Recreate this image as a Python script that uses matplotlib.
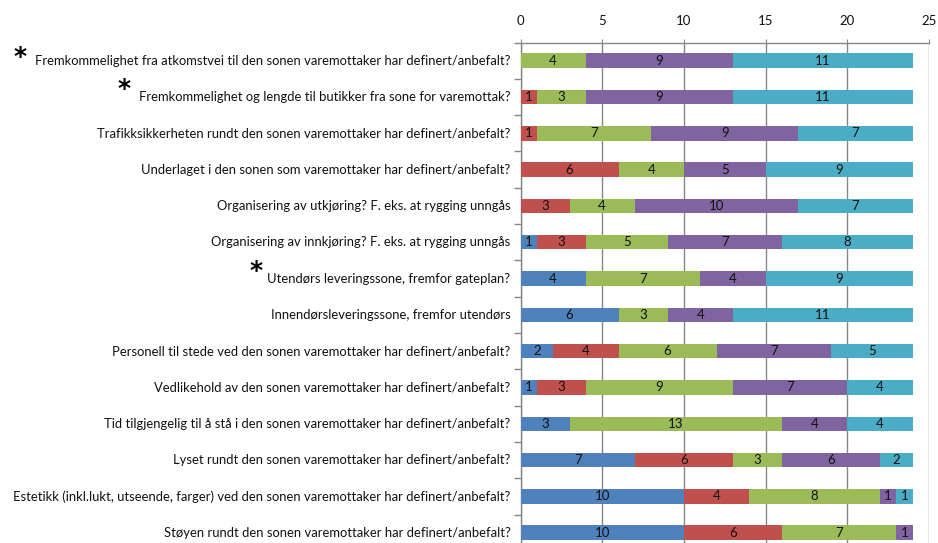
import matplotlib
matplotlib.use("Agg")
import matplotlib.pyplot as plt
import numpy as np

categories = [
    "Fremkommelighet fra atkomstvei til den sonen varemottaker har definert/anbefalt?",
    "Fremkommelighet og lengde til butikker fra sone for varemottak?",
    "Trafikksikkerheten rundt den sonen varemottaker har definert/anbefalt?",
    "Underlaget i den sonen som varemottaker har definert/anbefalt?",
    "Organisering av utkjøring? F. eks. at rygging unngås",
    "Organisering av innkjøring? F. eks. at rygging unngås",
    "Utendørs leveringssone, fremfor gateplan?",
    "Innendørsleveringssone, fremfor utendørs",
    "Personell til stede ved den sonen varemottaker har definert/anbefalt?",
    "Vedlikehold av den sonen varemottaker har definert/anbefalt?",
    "Tid tilgjengelig til å stå i den sonen varemottaker har definert/anbefalt?",
    "Lyset rundt den sonen varemottaker har definert/anbefalt?",
    "Estetikk (inkl.lukt, utseende, farger) ved den sonen varemottaker har definert/anbefalt?",
    "Støyen rundt den sonen varemottaker har definert/anbefalt?",
]
starred = [0, 1, 6]

s1 = [0, 0, 0, 0, 0, 1, 4, 6, 2, 1, 3, 7, 10, 10]
s2 = [0, 1, 1, 6, 3, 3, 0, 0, 4, 3, 0, 6, 4, 6]
s3 = [4, 3, 7, 4, 4, 5, 7, 3, 6, 9, 13, 3, 8, 7]
s4 = [9, 9, 9, 5, 10, 7, 4, 4, 7, 7, 4, 6, 1, 1]
s5 = [11, 11, 7, 9, 7, 8, 9, 11, 5, 4, 4, 2, 1, 0]
series = [s1, s2, s3, s4, s5]
colors = ["#4F81BD", "#C0504D", "#9BBB59", "#8064A2", "#4BACC6"]
xticks = [0, 5, 10, 15, 20, 25]

FONT = ["Lato", "DejaVu Sans"]
plt.rcParams["font.family"] = FONT

W, H = 938, 543
fig = plt.figure(figsize=(W / 100, H / 100), dpi=100)
left_px, right_px = 520.5, 929.0
top_px, bot_px = 42.5, 550.9
ax = fig.add_axes([left_px / W, 1 - bot_px / H, (right_px - left_px) / W, (bot_px - top_px) / H])

n = len(categories)
y = np.arange(n)
left = np.zeros(n)
for vals, c in zip(series, colors):
    vals = np.array(vals, dtype=float)
    ax.barh(y, vals, left=left, height=0.4, color=c, edgecolor="none", zorder=3)
    for yi, (l, v) in enumerate(zip(left, vals)):
        if v > 0:
            ax.text(l + v / 2, yi, f"{int(v)}", ha="center", va="center",
                    fontsize=9.5, color="#111111", zorder=4)
    left += vals

ax.set_xlim(0, 25)
ax.set_ylim(n - 0.5, -0.5)
ax.xaxis.tick_top()
ax.set_xticks(xticks)
ax.tick_params(axis="x", length=3, color="#868686", labelsize=9.5, pad=8,
               labelcolor="#111111")
ax.set_yticks(np.arange(n + 1) - 0.5)
ax.set_yticklabels([])
ax.tick_params(axis="y", length=5, color="#868686", width=1)
ax.grid(axis="x", color="#868686", linewidth=1, zorder=0)
for s in ["right", "bottom"]:
    ax.spines[s].set_visible(False)
for s in ["top", "left"]:
    ax.spines[s].set_color("#868686")
    ax.spines[s].set_linewidth(1)

# category labels
labels = []
for i, lab in enumerate(categories):
    t = ax.annotate(lab, xy=(0, i), xycoords=("axes fraction", "data"),
                    xytext=(-10, 0), textcoords="offset pixels",
                    ha="right", va="center", fontsize=9.4, color="#111111")
    labels.append(t)

fig.canvas.draw()
r = fig.canvas.get_renderer()
star_offsets = {0: (15, 6), 1: (15, 10), 6: (11, 10)}  # px left of label, px above row centre
for i in starred:
    dx, dy = star_offsets[i]
    bb = labels[i].get_window_extent(r)
    x_star = bb.x0 - dx
    y_row = ax.transData.transform((0, i))[1]
    y_star = y_row + dy - 2.5
    fig.text(x_star / W, y_star / H, "*", ha="center", va="center", fontsize=18,
             color="black", family=["DejaVu Sans"], fontweight="bold")

fig.savefig("out.png", dpi=100)
